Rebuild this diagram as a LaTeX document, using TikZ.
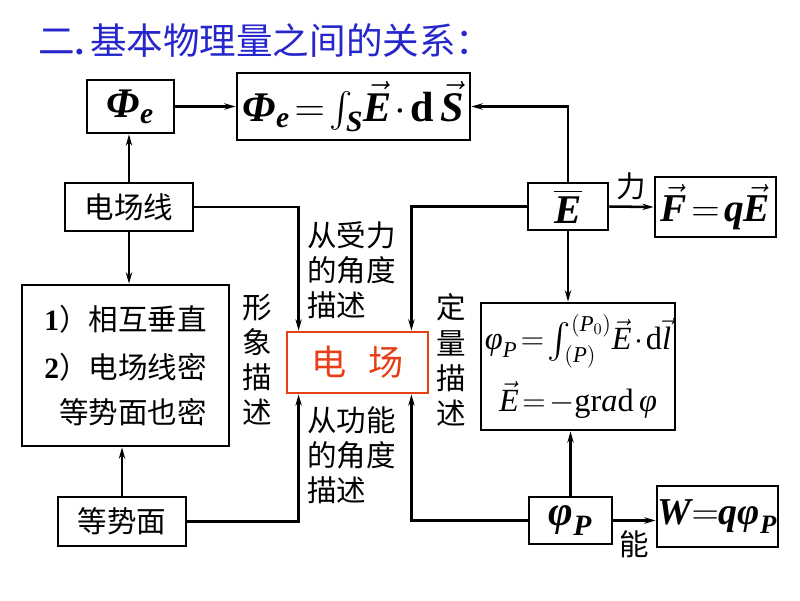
\documentclass[tikz,border=0pt]{standalone}
\usepackage{fix-cm}
\usepackage{amsmath}
\usepackage{fontspec}
\setmainfont{Liberation Serif}
\newfontfamily\cjk{Noto Sans CJK SC}
\usetikzlibrary{arrows.meta,calc,positioning}

\newcommand{\bix}[1]{\text{\rmfamily\bfseries\itshape #1}}
\newcommand{\tix}[1]{\text{\rmfamily\itshape #1}}
\newcommand{\trm}[1]{\text{\rmfamily #1}}
\newcommand{\tightmath}{\thickmuskip=2mu\relax\medmuskip=1.5mu\relax}

\definecolor{titleblue}{RGB}{38,38,204}
\definecolor{fieldred}{RGB}{230,62,22}

\begin{document}
\begin{tikzpicture}[
    x=0.025cm, y=-0.025cm,
    font=\cjk\fontsize{21}{25}\selectfont,
    box/.style  ={draw, line width=2pt, inner sep=0pt, align=center},
    lbl/.style  ={inner sep=0pt, align=center},
    frm/.style  ={font=\rmfamily\fontsize{28}{34}\selectfont},
    arrow/.style={-{Stealth[length=8pt,width=4.5pt]}, line width=1.8pt},
]
\def\px{0.025cm} % one pixel of the reference

\useasboundingbox (0,0) rectangle (800,600);

% ---------- Title ----------
\node[anchor=west, inner sep=0pt, text=titleblue, font=\cjk\fontsize{26}{30}\selectfont]
  (title) at (38,41) {二{\rmfamily\bfseries .}\,基本物理量之间的关系：};

% ---------- Top row: flux ----------
\node[box, font=\rmfamily\fontsize{30}{34}\selectfont, minimum width=87*\px, minimum height=53*\px]
  (phie) at (130.5,106.5) {$\bix{Φ}_{\bix{e}}$};
\node[box, font=\rmfamily\fontsize{30}{34}\selectfont, minimum width=233*\px, minimum height=67*\px]
  (flux) at (353.5,106.5)
  {$\tightmath\bix{Φ}_{\bix{e}} = \int_{\bix{S}}\! \vec{\bix{E}}\cdot \text{\rmfamily\bfseries d}\,\vec{\bix{S}}$};

% ---------- Right column ----------
\node[box, font=\rmfamily\fontsize{29}{34}\selectfont, minimum width=80*\px, minimum height=47*\px]
  (Ebar) at (568,206.5) {$\overline{\bix{E}}$};
\node[box, frm, minimum width=121*\px, minimum height=60*\px]
  (force) at (715.5,207) {$\tightmath\vec{\bix{F}} = \bix{q}\vec{\bix{E}}$};
\node[box, font=\rmfamily\fontsize{23}{44}\selectfont, minimum width=194*\px, minimum height=127*\px]
  (pot) at (578,366.5)
  {$\tightmath\tix{φ}_{\tix{P}} = \int_{(\tix{P})}^{(\tix{P}_0)}\! \vec{\tix{E}}\cdot\trm{d}\vec{\tix{l}}$\\
   $\tightmath\vec{\tix{E}} = -\text{\rmfamily gr\itshape a\upshape d}\,\tix{φ}$};
\node[box, font=\rmfamily\fontsize{30}{34}\selectfont, minimum width=83*\px, minimum height=47*\px]
  (phiP) at (570.5,520.5) {$\bix{φ}_{\bix{P}}$};
\node[box, font=\rmfamily\fontsize{27}{34}\selectfont, minimum width=121*\px, minimum height=61*\px]
  (work) at (717.5,516.5) {$\bix{W}{=}\bix{q}\bix{φ}_{\bix{P}}$};

% ---------- Left column ----------
\node[box, minimum width=128*\px, minimum height=48*\px]
  (lines) at (129,207) {电场线};
\node[box, align=right, minimum width=207*\px, minimum height=161*\px]
  (props) at (125.5,365.5)
  {{\rmfamily\bfseries 1}）相互垂直\\[9pt]{\rmfamily\bfseries 2}）电场线密\\[7pt]等势面也密};
\node[box, minimum width=128*\px, minimum height=49*\px]
  (equip) at (122,521.5) {等势面};

% ---------- Centre: the field ----------
\node[box, draw=fieldred, text=fieldred, font=\cjk\fontsize{25}{30}\selectfont,
      minimum width=141*\px, minimum height=61*\px]
  (field) at (357.5,362.5) {电\hspace{0.6em}场};

\node[lbl] (xiang) at (257,360) {形\\象\\描\\述};
\node[lbl] (dingl) at (451,360) {定\\量\\描\\述};
\node[lbl, anchor=west, align=left] (shouli) at (307,270) {从受力\\的角度\\描述};
\node[lbl, anchor=west, align=left] (gongn) at (307,455) {从功能\\的角度\\描述};

\coordinate (fTL) at ($(field.north west)+(13,0)$);
\coordinate (fTR) at ($(field.north east)+(-18,0)$);
\coordinate (fBL) at ($(field.south west)+(13,0)$);
\coordinate (fBR) at ($(field.south east)+(-18,0)$);

% ---------- Connectors ----------
\draw[arrow] (lines.north) -- (lines.north |- phie.south);
\draw[arrow] (phie.east) -- (flux.west);
\draw[arrow] (Ebar.north) |- (flux.east);
\draw[arrow] (Ebar.east) -- node[lbl, above=4pt] (li) {力} (force.west);
\draw[arrow] (Ebar.south) -- (Ebar.south |- pot.north);
\draw[arrow] (phiP.north) -- (phiP.north |- pot.south);
\draw[arrow] (phiP.east) -- node[lbl, below=6pt] (neng) {能} (phiP.east -| work.west);
\draw[arrow] (lines.south) -- (lines.south |- props.north);
\draw[arrow] (equip.north) -- (equip.north |- props.south);

\draw[arrow] (lines.east) -| (fTL);
\draw[arrow] (Ebar.west) -| (fTR);
\draw[arrow] (equip.east) -| (fBL);
\draw[arrow] (phiP.west) -| (fBR);

\end{tikzpicture}
\end{document}
